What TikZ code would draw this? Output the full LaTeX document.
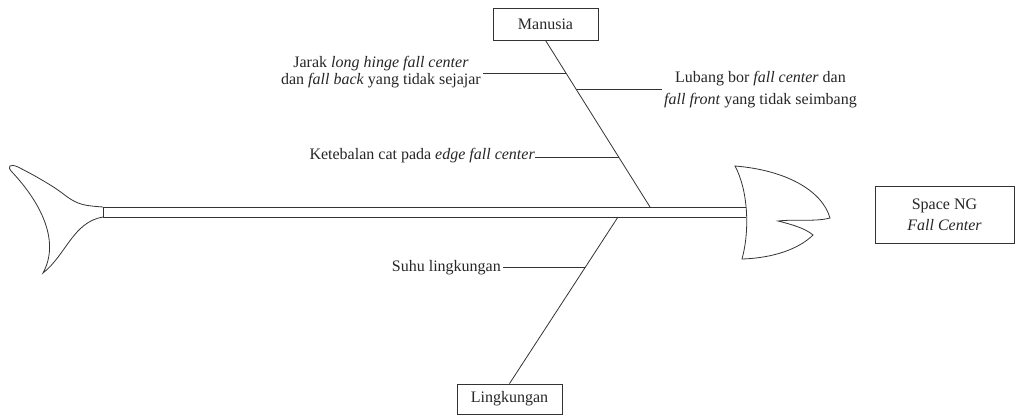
\documentclass[tikz,border=0pt]{standalone}
\usepackage{fontspec}
\setmainfont{Liberation Serif}
\newfontfamily\labelfont{Liberation Serif}
\usetikzlibrary{calc}
\begin{document}
\begin{tikzpicture}[x=1pt,y=-1pt,
  ln/.style={draw=black!80, line width=0.8pt},
  lbl/.style={font=\labelfont\fontsize{16}{18}\selectfont, inner sep=2pt, text=black!85},
  catbox/.style={ln, minimum width=105pt,
    font=\labelfont\fontsize{16}{18}\selectfont, text=black!85, inner sep=2pt}]
\path[use as bounding box] (0,0) rectangle (1015,416);

% category boxes and effect box
\node[catbox, minimum height=32pt] (manusia) at (545.5,24) {Manusia};
\node[catbox, minimum height=30pt] (ling) at (509.5,399) {Lingkungan};
\node[catbox, minimum width=139pt, minimum height=57pt, align=center,
  font=\labelfont\fontsize{16}{21}\selectfont] (effect) at (944.5,214.5)
  {Space NG\\\textit{Fall Center}};

% spine
\coordinate (tailtop) at (103,207);
\coordinate (tailbot) at (103,217);
\coordinate (headtop) at (746,207);
\coordinate (headbot) at (746,217);
\draw[ln] (tailtop) -- (headtop);
\draw[ln] (tailbot) -- (headbot);
\draw[ln] (tailtop) -- (tailbot);

% fish tail
\draw[ln] (tailtop) -- plot[smooth, tension=0.6] coordinates
    {(103,207) (85,205) (72,200) (55,188) (35,176) (18,167)}
  .. controls (9,163) and (7,167) .. (12,172)
  .. controls (42,204) and (60,242) .. (43,273)
  .. controls (66,255) and (73,222) .. (tailbot);

% fish head
\draw[ln] (735,166) .. controls (785,170) and (822,190) .. (830,218)
  .. controls (815,222) and (795,219) .. (778,221)
  .. controls (790,224) and (805,228) .. (813,235)
  .. controls (800,248) and (775,258) .. (742,259)
  .. controls (750,230) and (748,190) .. cycle;

% main bones
\coordinate (mhead) at (650,207);
\coordinate (lhead) at (618,217);
\draw[ln] (manusia.south) -- (mhead);
\draw[ln] (ling.north) -- (lhead);

% cause labels
\node[lbl, anchor=east, align=center, font=\labelfont\fontsize{16}{17}\selectfont]
  (jarak) at (483,72)
  {Jarak \textit{long hinge fall center}\\dan \textit{fall back} yang tidak sejajar};
\node[lbl, anchor=west, align=center, font=\labelfont\fontsize{16}{22}\selectfont]
  (lubang) at (662,90)
  {Lubang bor \textit{fall center} dan\\\textit{fall front} yang tidak seimbang};
\node[lbl, anchor=east, inner sep=0pt] (tebal) at (535,156)
  {Ketebalan cat pada \textit{edge fall center}};
\node[lbl, anchor=east] (suhu) at (503,268) {Suhu lingkungan};

% sub-bones
\coordinate (b1) at ($(manusia.south)!0.198!(mhead)$);
\coordinate (b2) at ($(manusia.south)!0.293!(mhead)$);
\coordinate (b3) at ($(manusia.south)!0.70!(mhead)$);
\coordinate (b4) at ($(ling.north)!0.695!(lhead)$);
\draw[ln] (b1) -- (b1 -| jarak.east);
\draw[ln] (b2) -- (b2 -| lubang.west);
\draw[ln] (b3) -- (b3 -| tebal.east);
\draw[ln] (b4) -- (b4 -| suhu.east);
\end{tikzpicture}
\end{document}
